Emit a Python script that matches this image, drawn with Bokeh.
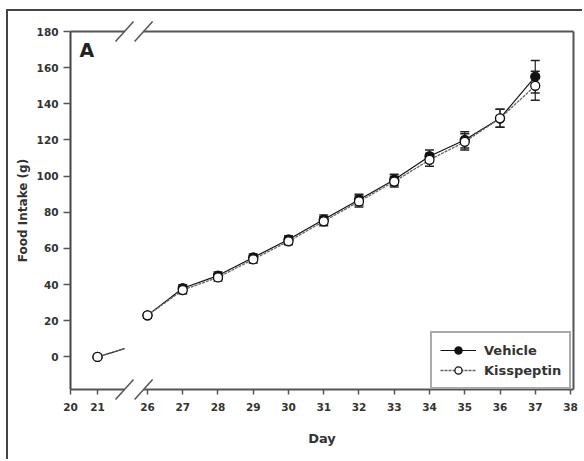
from bokeh.plotting import figure
from bokeh.models import (ColumnDataSource, Range1d, FixedTicker, Whisker, TeeHead,
                          Legend, LegendItem, Label)
from bokeh.embed import file_html
from bokeh.resources import INLINE

# ---------------- data ----------------
days = [21, 26, 27, 28, 29, 30, 31, 32, 33, 34, 35, 36, 37]
vehicle = [0, 23, 38, 45, 55, 65, 76, 87, 98, 111, 120, 132, 155]
vehicle_err = [0.5, 1.5, 2, 2, 2, 2, 2.5, 3, 3, 3.5, 4.5, 5, 9]
kisspeptin = [0, 23, 37, 44, 54, 64, 75, 86, 97, 109, 119, 132, 150]
kisspeptin_err = [0.5, 1.5, 2, 2, 2, 2, 2.5, 3, 3, 3.5, 4.5, 5, 8]
x_tick_days = [20, 21, 26, 27, 28, 29, 30, 31, 32, 33, 34, 35, 36, 37, 38]
y_ticks = [0, 20, 40, 60, 80, 100, 120, 140, 160, 180]

# ---------------- broken x scale ----------------
BREAK_DAY = 26          # first day after the axis break
POS_21 = 24.582         # axis position of day 21
EARLY_SCALE = 0.766     # compression of the segment before the break


def xpos(d):
    return float(d) if d >= BREAK_DAY else POS_21 + (d - 21) * EARLY_SCALE


PX_X = 35.25            # pixels per day
PX_Y = 1.808            # pixels per gram
X_LO = xpos(20)
X_RIGHT = 38.085
Y_LO, Y_HI = -18, 180
PAD_L, PAD_R, PAD_T, PAD_B = 62, 11, 14, 63
BREAK_L = xpos(22)
BREAK_R = 25.89
LEGEND_W = 143

FONT = "DejaVu Sans"
FRAME = "#555555"

p = figure(width=576, height=450, output_backend="svg", toolbar_location=None,
           x_range=Range1d(X_LO - PAD_L / PX_X, X_RIGHT + PAD_R / PX_X),
           y_range=Range1d(Y_LO - PAD_B / PX_Y, Y_HI + PAD_T / PX_Y),
           min_border_left=0, min_border_right=0, min_border_top=6, min_border_bottom=9)
p.styles = {"border-left": "2px solid #444", "border-top": "2px solid #444",
            "margin-left": "6px", "margin-top": "9px"}
p.outline_line_color = None
p.grid.visible = False
p.background_fill_color = "white"
p.border_fill_color = "white"

# ---------------- axes ----------------
xt = [xpos(d) for d in x_tick_days]
p.xaxis.fixed_location = Y_LO
p.xaxis.bounds = (X_LO, X_RIGHT)
p.xaxis.ticker = FixedTicker(ticks=xt)
p.xaxis.major_label_overrides = {t: str(d) for t, d in zip(xt, x_tick_days)}
p.xaxis.axis_line_color = None
p.xaxis.major_tick_in = 0
p.xaxis.major_tick_out = 5
p.xaxis.major_tick_line_color = FRAME
p.xaxis.major_tick_line_width = 1.5
p.xaxis.minor_tick_line_color = None
p.xaxis.major_label_standoff = 9
p.xaxis.axis_label = "Day"
p.xaxis.axis_label_standoff = 16

p.yaxis.fixed_location = X_LO
p.yaxis.ticker = FixedTicker(ticks=y_ticks)
p.yaxis.bounds = (Y_LO, Y_HI)
p.yaxis.axis_line_color = "#444444"
p.yaxis.axis_line_width = 2
p.yaxis.major_tick_in = 0
p.yaxis.major_tick_out = 7
p.yaxis.major_tick_line_color = FRAME
p.yaxis.major_tick_line_width = 1.5
p.yaxis.minor_tick_line_color = None
p.yaxis.major_label_standoff = 5
p.yaxis.axis_label = "Food Intake (g)"
p.yaxis.axis_label_standoff = 4

for ax in (p.xaxis, p.yaxis):
    ax.major_label_text_font = FONT
    ax.major_label_text_font_style = "bold"
    ax.major_label_text_font_size = "10.5px"
    ax.major_label_text_color = "#333333"
    ax.axis_label_text_font = FONT
    ax.axis_label_text_font_style = "bold"
    ax.axis_label_text_color = "#333333"
p.xaxis.axis_label_text_font_size = "13px"
p.yaxis.axis_label_text_font_size = "12px"

# ---------------- frame with breaks ----------------
frame_src = ColumnDataSource(dict(
    x0=[X_LO, BREAK_R, X_LO, BREAK_R, X_RIGHT],
    x1=[BREAK_L, X_RIGHT, BREAK_L, X_RIGHT, X_RIGHT],
    y0=[Y_HI, Y_HI, Y_LO, Y_LO, Y_LO],
    y1=[Y_HI, Y_HI, Y_LO, Y_LO, Y_HI],
))
p.segment("x0", "y0", "x1", "y1", source=frame_src, line_color=FRAME, line_width=2)

dxu, dyu = 9 / PX_X, 10 / PX_Y
bx, by = [], []
for yy in (Y_LO, Y_HI):
    for c in (BREAK_L, BREAK_R):
        bx.append((c - dxu, c + dxu))
        by.append((yy - dyu, yy + dyu))
brk = ColumnDataSource(dict(x0=[a for a, _ in bx], x1=[b for _, b in bx],
                            y0=[a for a, _ in by], y1=[b for _, b in by]))
p.segment("x0", "y0", "x1", "y1", source=brk, line_color=FRAME, line_width=1.5)

# ---------------- data series ----------------
pre = [i for i, d in enumerate(days) if d < BREAK_DAY]
post = [i for i, d in enumerate(days) if d >= BREAK_DAY]
first_post = post[0]


def early_link(vals):
    # line from the last pre-break point toward the first post-break one, cut at the break
    i = pre[-1]
    d0, d1 = days[i], days[first_post]
    frac = (22 - d0) / (d1 - d0)
    return [xpos(d0), xpos(22)], [vals[i], vals[i] + (vals[first_post] - vals[i]) * frac]


def series(vals, errs, color, fill, dash, width):
    xs = [xpos(days[i]) for i in post]
    ys = [vals[i] for i in post]
    ln = p.line(xs, ys, line_color=color, line_width=width, line_dash=dash)
    ex, ey = early_link(vals)
    p.line(ex, ey, line_color=color, line_width=width, line_dash=dash)
    src = ColumnDataSource(dict(
        x=[xpos(d) for d in days], y=vals,
        lo=[v - e for v, e in zip(vals, errs)], hi=[v + e for v, e in zip(vals, errs)]))
    w = Whisker(base="x", lower="lo", upper="hi", source=src, dimension="height",
                line_color="#222222", line_width=1.2, level="underlay",
                upper_head=TeeHead(size=9, line_color="#222222", line_width=1.5),
                lower_head=TeeHead(size=9, line_color="#222222", line_width=1.5))
    p.add_layout(w)
    mk = p.scatter("x", "y", source=src, marker="circle", size=9,
                   line_color="#111111", line_width=1.3, fill_color=fill)
    return ln, mk


v_line, v_mk = series(vehicle, vehicle_err, "#111111", "#111111", "solid", 1.2)
k_line, k_mk = series(kisspeptin, kisspeptin_err, "#666666", "white", "3 1", 1.3)

legend = Legend(items=[LegendItem(label="Vehicle", renderers=[v_line, v_mk]),
                       LegendItem(label="Kisspeptin", renderers=[k_line, k_mk])],
                location=(PAD_L + (X_RIGHT - X_LO) * PX_X - LEGEND_W, PAD_B),
                margin=0, padding=8, spacing=2,
                glyph_width=36, glyph_height=18, label_height=18, label_standoff=8,
                border_line_color=FRAME, border_line_width=2,
                label_text_font=FONT, label_text_font_style="bold",
                label_text_font_size="13px", label_text_color="#333333")
p.add_layout(legend)

p.add_layout(Label(x=X_LO + 9 / PX_X, y=Y_HI - 7 / PX_Y, text="A", text_font=FONT,
                   text_font_style="bold", text_font_size="19px", text_baseline="top",
                   text_color="#222222"))

open("out.html", "w").write(file_html(p, INLINE))
